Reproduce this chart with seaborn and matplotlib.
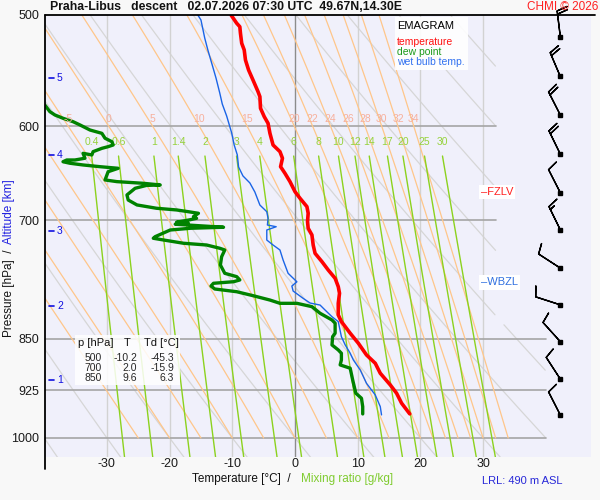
import numpy as np
import pandas as pd
import matplotlib
matplotlib.use("Agg")
import matplotlib.pyplot as plt
import matplotlib.transforms as mtransforms
from matplotlib.lines import Line2D
from matplotlib.patches import Rectangle
import seaborn as sns

# ---------------- data ----------------
temp_p = [500, 506.8, 509.7, 515.2, 523.7, 529.5, 538.3, 547.2, 556.2, 566.9, 571.6, 582.6,
          590.7, 597.1, 606.9, 618.7, 625.5, 632.3, 641.1, 648.1, 657.0, 667.9, 675.2, 684.5,
          691.9, 701.5, 709.2, 717.0, 728.9, 738.9, 749.1, 759.4, 769.8, 780.4, 788.9, 801.9,
          817.4, 826.4, 842.3, 856.2, 872.8, 884.8, 899.4, 916.8, 929.3, 944.6, 961.3]
temp_t = [-10.2, -9.3, -8.8, -8.7, -8.5, -8.1, -7.9, -7.4, -6.7, -5.9, -5.6, -5.5,
          -4.9, -4.3, -4.0, -3.5, -2.4, -2.0, -2.3, -1.6, -0.8, 0.0, 0.8, 1.9,
          2.1, 2.0, 2.1, 2.7, 2.9, 3.2, 4.3, 5.3, 6.4, 6.9, 7.1, 6.9,
          6.9, 7.4, 8.8, 10.1, 11.4, 12.8, 13.6, 15.2, 16.2, 17.0, 18.3]

dew_p = [500, 576.6, 579.5, 585.8, 589.0, 592.2, 595.5, 598.7, 603.7, 607.0, 611.9, 615.4,
         618.7, 620.4, 622.1, 625.5, 628.9, 627.2, 632.3, 634.1, 634.1, 635.9, 637.5, 639.3,
         641.1, 642.8, 646.4, 655.2, 657.0, 658.8, 660.6, 661.1, 664.2, 671.5, 677.1, 682.6,
         686.3, 688.2, 690.2, 692.0, 695.8, 697.7, 699.6, 702.2, 703.4, 704.5, 708.0, 709.2,
         711.2, 719.0, 720.9, 722.9, 726.8, 728.9, 732.8, 734.9, 743.0, 753.2, 763.5, 767.7,
         771.9, 774.1, 776.1, 779.6, 783.4, 786.9, 792.0, 797.7, 802.0, 802.0, 806.4, 815.2,
         824.2, 828.6, 842.3, 847.0, 858.6, 865.7, 870.4, 880.0, 887.2, 892.0, 909.3, 929.3,
         937.0, 950.0, 961.4]
dew_t = [-45.3, -40.7, -39.9, -39.1, -38.3, -37.0, -35.4, -34.3, -32.7, -30.8, -30.3, -29.2,
         -29.0, -29.8, -30.8, -32.2, -32.4, -33.8, -33.5, -35.1, -36.4, -37.0, -35.9, -33.8,
         -31.1, -28.2, -29.8, -30.3, -28.4, -24.2, -21.5, -23.7, -25.5, -26.8, -26.6, -25.2,
         -22.1, -18.9, -17.0, -15.4, -16.2, -15.7, -16.9, -18.9, -17.0, -19.1, -11.4, -16.7,
         -19.9, -22.3, -22.6, -21.0, -17.8, -14.1, -12.0, -11.2, -11.7, -11.9, -11.2, -9.3,
         -8.8, -9.8, -13.0, -13.4, -12.8, -9.3, -6.7, -4.0, -2.4, 0.3, 2.7, 4.0,
         5.9, 6.4, 6.4, 6.0, 5.9, 6.9, 7.4, 7.4, 7.2, 8.8, 9.2, 9.7,
         10.6, 10.8, 10.8]

wet_p = [500, 504.1, 519.2, 529.5, 542.7, 554.4, 568.2, 578.5, 590.0, 606.6, 618.7, 628.9,
         641.4, 650.9, 658.4, 668.3, 682.7, 690.2, 697.7, 705.4, 707.4, 711.2, 723.0, 728.9,
         734.9, 747.0, 763.5, 774.2, 779.6, 786.0, 795.5, 801.6, 804.3, 810.9, 819.8, 826.4,
         847.1, 858.5, 870.3, 879.9, 894.5, 914.3, 931.9, 949.9, 962.9]
wet_t = [-15.5, -15.0, -14.4, -13.9, -13.2, -12.6, -12.0, -11.6, -10.9, -10.1, -9.7, -9.2,
         -9.0, -8.3, -7.2, -6.4, -5.6, -4.5, -4.3, -4.4, -3.0, -4.5, -4.5, -3.5,
         -2.4, -1.9, -1.1, 0.3, -0.5, -0.3, 1.3, 2.4, 4.0, 4.8, 5.9, 6.9,
         7.4, 8.0, 8.8, 9.3, 10.4, 11.4, 12.8, 13.6, 13.8]

table_p = [500, 700, 850]
table_t = [-10.2, 2.0, 9.6]
table_td = [-45.3, -15.9, 6.3]

alt_km = [1, 2, 3, 4, 5]
alt_p = [909, 806, 712, 629, 554]

barb_p = [963, 908, 854, 804, 757, 711, 669, 628, 589, 553, 518]
barb_dir = [333, 327, 318, 288, 303, 334, 333, 334, 333, 337, 353]
barb_spd = [10, 10, 10, 10, 10, 15, 10, 20, 20, 20, 20]

mixing_ratios = [0.4, 0.6, 1, 1.4, 2, 3, 4, 6, 8, 10, 12, 14, 17, 20, 25, 30]
mixing_labels = ["0.4", "0.6", "1", "1.4", "2", "3", "4", "6", "8", "10", "12", "14",
                 "17", "20", "25", "30"]
theta_w = [-25, -20, -15, -10, -5, 0, 5, 10, 15, 20, 22, 24, 26, 28, 30, 32, 34]
theta_w_labelled = [-5, 0, 5, 10, 15, 20, 22, 24, 26, 28, 30, 32, 34]
theta_dry = [-40, -30, -20, -10, 0, 10, 20, 30, 40, 50, 60, 70, 80, 90, 100]
temp_ticks = [-30, -20, -10, 0, 10, 20, 30]
pressure_ticks = [500, 600, 700, 850, 925, 1000]
fzlv_p = 668
wbzl_p = 775

# ---------------- layout helpers ----------------
W, H = 600, 500
PX_PER_C = 6.27
X0_PX = 295.0
T_LEFT = (45 - X0_PX) / PX_PER_C
T_RIGHT = (591 - X0_PX) / PX_PER_C
P_TOP, P_BOT = 500.0, 1031.7
BARB_X = (560.3 - X0_PX) / PX_PER_C


def fx(px):
    return px / W


def fy(py):
    return 1 - py / H


sns.set_theme(style="white")
plt.rcParams["font.family"] = ["Liberation Sans", "DejaVu Sans"]

fig = plt.figure(figsize=(6, 5), dpi=100, facecolor="#f8f8f8")
ax = fig.add_axes([fx(45), fy(457), (591 - 45) / W, (457 - 15) / H])
ax.set_facecolor("#f0f0fb")
ax.set_yscale("log")
ax.set_xlim(T_LEFT, T_RIGHT)
ax.set_ylim(P_BOT, P_TOP)
for s in ax.spines.values():
    s.set_visible(False)

# ---------------- thermodynamic background ----------------
pp = np.geomspace(1040, 495, 500)

# dry adiabats, clipped to the diagram region
T_lim = np.where(pp < 830, 32.0, 40.0)
for th in theta_dry:
    t = (th + 273.15) * (pp / 1000.0) ** 0.2857 - 273.15
    t = np.where(t <= T_lim, t, np.nan)
    ax.plot(t, pp, color="#d6d6d6", lw=0.9, zorder=1)

# isotherms
for tt in temp_ticks:
    ax.plot([tt, tt], [P_BOT, P_TOP], color="#8c8c8c" if tt == 0 else "#d2d2d2",
            lw=1.0, zorder=1.5)

# isobars
for pr in pressure_ticks[1:]:
    tmax = 32.0 if pr < 800 else 40.0
    ax.plot([T_LEFT, tmax], [pr, pr], color="#a5a5a5", lw=1.2, zorder=1.6)


# pseudo-adiabats (RK4 integration from 1000 hPa)
def moist_rate(T, p):
    Rd, Cp, Lv, eps = 287.04, 1005.7, 2.501e6, 0.622
    es = 6.112 * np.exp(17.67 * (T - 273.15) / (T - 29.65))
    rs = eps * es / (p - es)
    return (Rd * T + Lv * rs) / (Cp + Lv ** 2 * rs * eps / (Rd * T ** 2)) / p


pm = np.linspace(1000, 500, 401)
Tm = np.zeros((len(theta_w), len(pm)))
Tm[:, 0] = np.array(theta_w) + 273.15
for i in range(1, len(pm)):
    dp = pm[i] - pm[i - 1]
    T = Tm[:, i - 1]
    p0 = pm[i - 1]
    k1 = moist_rate(T, p0)
    k2 = moist_rate(T + 0.5 * dp * k1, p0 + 0.5 * dp)
    k3 = moist_rate(T + 0.5 * dp * k2, p0 + 0.5 * dp)
    k4 = moist_rate(T + dp * k3, p0 + dp)
    Tm[:, i] = T + dp * (k1 + 2 * k2 + 2 * k3 + k4) / 6.0
Tm -= 273.15
for j, tw in enumerate(theta_w):
    ax.plot(Tm[j], pm, color="#ffc68a", lw=0.9, zorder=2)
    if tw in theta_w_labelled:
        t600 = np.interp(600, pm[::-1], Tm[j][::-1])
        ax.text(t600, 598, str(tw), color="#f7b09c", fontsize=7.5, ha="center",
                va="bottom", zorder=8.5)

# mixing ratio lines
pw = np.geomspace(630, P_BOT, 100)
for w, lab in zip(mixing_ratios, mixing_labels):
    e = w * pw / (622.0 + w)
    ln = np.log(e / 6.112)
    td = 243.5 * ln / (17.67 - ln)
    ax.plot(td, pw, color="#8cd21e", lw=1.0, zorder=2.5)
    ax.text(td[0], 621, lab, color="#96d23c", fontsize=7.5, ha="center",
            va="bottom", zorder=6)

# ---------------- sounding profiles ----------------
df_t = pd.DataFrame({"T": temp_t, "p": temp_p})
df_d = pd.DataFrame({"T": dew_t, "p": dew_p})
df_w = pd.DataFrame({"T": wet_t, "p": wet_p})
sns.lineplot(data=df_w, x="T", y="p", sort=False, estimator=None, color="#1a64e6",
             lw=1.0, ax=ax, zorder=7)
sns.lineplot(data=df_d, x="T", y="p", sort=False, estimator=None, color="#008200",
             lw=2.4, ax=ax, zorder=8)
sns.lineplot(data=df_t, x="T", y="p", sort=False, estimator=None, color="#ff0000",
             lw=2.6, ax=ax, zorder=9)

# ---------------- wind barbs ----------------
rad = np.deg2rad(barb_dir)
u = -np.array(barb_spd) * np.sin(rad)
v = -np.array(barb_spd) * np.cos(rad)
bx = np.full(len(barb_p), BARB_X)
ax.barbs(bx, barb_p, u, v, length=6.1, lw=1.0, color="black", zorder=10,
         clip_on=False)
ax.plot(bx, barb_p, "s", ms=3, color="black", zorder=11, clip_on=False)

# ---------------- axis ticks ----------------
ax.set_xticks(temp_ticks)
ax.set_xticklabels([str(t) for t in temp_ticks])
ax.set_yticks(pressure_ticks)
ax.set_yticklabels([str(p) for p in pressure_ticks])
ax.yaxis.set_minor_locator(matplotlib.ticker.NullLocator())
ax.tick_params(axis="both", length=0, labelsize=9, colors="#1a1a1a")
ax.tick_params(axis="x", pad=1)
ax.tick_params(axis="y", pad=4)
ax.set_xlabel("")
ax.set_ylabel("")

# altitude markers
trans = mtransforms.blended_transform_factory(ax.transAxes, ax.transData)
for km, pr in zip(alt_km, alt_p):
    ax.plot([4 / 546, 9 / 546], [pr, pr], color="#1010e0", lw=1.2, transform=trans,
            zorder=12)
    ax.text(12 / 546, pr, str(km), color="#1010e0", fontsize=7.5, ha="left",
            va="center", transform=trans, zorder=12)

# FZLV / WBZL
ax.text((481 - 45) / 546, fzlv_p, "\u2013FZLV", color="#ff2020", fontsize=8, ha="left",
        va="center", transform=trans, zorder=12,
        bbox=dict(facecolor="white", edgecolor="none", pad=1.5))
ax.text((481 - 45) / 546, wbzl_p, "\u2013WBZL", color="#3070e0", fontsize=8, ha="left",
        va="center", transform=trans, zorder=12,
        bbox=dict(facecolor="white", edgecolor="none", pad=1.5))

# ---------------- frame lines ----------------
fig.add_artist(Line2D([fx(45), fx(595)], [fy(15), fy(15)], color="black", lw=1.3))
fig.add_artist(Line2D([fx(45), fx(45)], [fy(15), fy(469)], color="black", lw=1.3))

# ---------------- legend box ----------------
fig.add_artist(Rectangle((fx(395), fy(70)), 73 / W, 53 / H, transform=fig.transFigure,
                         facecolor="white", edgecolor="none", alpha=0.9, zorder=20))
fig.text(fx(397), fy(26), "EMAGRAM", color="black", fontsize=8, va="center", zorder=21)
fig.text(fx(397), fy(42), "temperature", color="#ff1010", fontsize=7.5, va="center", zorder=21)
fig.text(fx(397), fy(52), "dew point", color="#1a9a1a", fontsize=7.5, va="center", zorder=21)
fig.text(fx(397), fy(62), "wet bulb temp.", color="#3070f0", fontsize=7.5, va="center", zorder=21)

# ---------------- value table ----------------
fig.add_artist(Rectangle((fx(75), fy(385)), 105 / W, 50 / H, transform=fig.transFigure,
                         facecolor="white", edgecolor="none", alpha=0.85, zorder=20))
fig.text(fx(78), fy(343), "p [hPa]", fontsize=8, va="center", zorder=21, color="#111111")
fig.text(fx(127), fy(343), "T", fontsize=8, va="center", ha="center", zorder=21, color="#111111")
fig.text(fx(144), fy(343), "Td [°C]", fontsize=8, va="center", zorder=21, color="#111111")
for k, (pv, tv, tdv) in enumerate(zip(table_p, table_t, table_td)):
    yy = 358 + 10 * k
    fig.text(fx(102), fy(yy), f"{pv}", fontsize=7.5, ha="right", va="center", zorder=21)
    fig.text(fx(137), fy(yy), f"{tv:.1f}", fontsize=7.5, ha="right", va="center", zorder=21)
    fig.text(fx(174), fy(yy), f"{tdv:.1f}", fontsize=7.5, ha="right", va="center", zorder=21)

# ---------------- titles and labels ----------------
fig.text(fx(50), fy(7), "Praha-Libus   descent   02.07.2026 07:30 UTC  49.67N,14.30E",
         fontsize=8.8, fontweight="bold", ha="left", va="center", color="#111111")
fig.text(fx(598), fy(7), "CHMI © 2026", fontsize=8.5, ha="right", va="center",
         color="#ff2020", zorder=30)
fig.text(fx(291), fy(479), "Temperature [°C]  /", fontsize=8.5, ha="right", va="center",
         color="#111111")
fig.text(fx(301), fy(479), "Mixing ratio [g/kg]", fontsize=8.5, ha="left", va="center",
         color="#80cc30")
fig.text(fx(482), fy(481), "LRL: 490 m ASL", fontsize=8, ha="left", va="center",
         color="#2828d8")
fig.text(fx(9), fy(293), "Pressure [hPa]  /", fontsize=8.5, rotation=90, ha="center",
         va="center", color="#111111")
fig.text(fx(9), fy(212), "Altitude [km]", fontsize=8.5, rotation=90, ha="center",
         va="center", color="#2020e0")

fig.savefig("out.png", dpi=100, facecolor=fig.get_facecolor())
